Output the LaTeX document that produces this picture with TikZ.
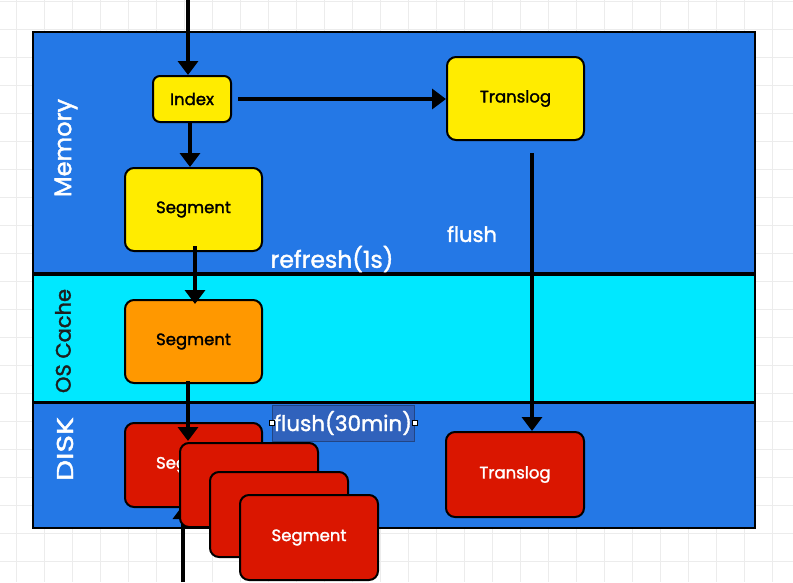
\documentclass[tikz,border=0pt]{standalone}
\usepackage{fontspec}
\setmainfont{Poppins}
\newfontfamily\medfont{Poppins}[FakeBold=1.6]
\usetikzlibrary{arrows.meta}
\definecolor{bandblue}{RGB}{36,120,230}
\definecolor{cachecyan}{RGB}{0,232,255}
\definecolor{boxyellow}{RGB}{255,236,0}
\definecolor{boxorange}{RGB}{255,152,0}
\definecolor{boxred}{RGB}{218,22,0}
\definecolor{gridgray}{RGB}{236,236,236}
\definecolor{selblue}{RGB}{48,98,188}
\definecolor{darktext}{RGB}{30,30,30}
\begin{document}
\begin{tikzpicture}[x=1pt,y=-1pt,
  band/.style={draw=black, line width=2pt},
  box/.style={draw=black, line width=2pt, rounded corners=9pt, minimum width=137pt, minimum height=83pt, inner sep=0pt, font=\medfont\fontsize{16.5}{18}\selectfont},
  flow/.style={line width=4.5pt, -{Triangle[width=20pt,length=14pt]}},
  bandlabel/.style={rotate=90, font=\medfont\fontsize{24}{26}\selectfont},
  flowlabel/.style={text=white, font=\medfont\fontsize{22}{24}\selectfont, inner sep=0pt},
  handle/.style={draw=black, fill=white, line width=0.6pt, minimum size=5pt, inner sep=0pt}
]
\useasboundingbox (0,0) rectangle (793,582);
\fill[white] (0,0) rectangle (793,582);
\foreach \gx in {16,44,...,793} \draw[gridgray, line width=1pt] (\gx,0) -- (\gx,582);
\foreach \gy in {1,29,...,582} \draw[gridgray, line width=1pt] (0,\gy) -- (793,\gy);

% bands
\draw[band, fill=bandblue] (33,32) rectangle (755,273);
\draw[band, fill=cachecyan] (33,275) rectangle (755,402);
\draw[band, fill=bandblue] (33,403) rectangle (755,528);

\node[bandlabel, text=white] (lmem) at (66,148) {Memory};
\node[bandlabel, text=darktext, font=\medfont\fontsize{21}{23}\selectfont] (lcache) at (63,341) {OS Cache};
\node[bandlabel, text=white, font=\medfont\fontsize{23}{25}\selectfont] (ldisk) at (65,449) {\scalebox{1.3}[1]{DISK}};

% memory boxes
\node[box, fill=boxyellow, minimum width=78pt, minimum height=46pt, rounded corners=7pt] (idx) at (192,99) {Index};
\node[box, fill=boxyellow] (memseg) at (193.5,209.5) {Segment};
\node[box, fill=boxyellow] (tlog) at (515.5,98.5) {Translog};

% os cache
\node[box, fill=boxorange] (cacheseg) at (193.5,341.5) {Segment};

% disk
\node[box, fill=boxred, text=white, minimum width=138pt, minimum height=85pt] (dtlog) at (515,474.5) {Translog};
\node[box, fill=boxred, text=white, minimum height=84pt] (red1) at (193.5,465) {Segment};

% labels
\node[flowlabel, font=\medfont\fontsize{23.5}{25}\selectfont] (lrefresh) at (332,259) {refresh(1s)};
\node[flowlabel, font=\medfont\fontsize{21}{23}\selectfont] (lflush) at (472,234) {flush};
\node[flowlabel, fill=selblue, draw=selblue!70!black, line width=0.6pt, minimum width=142pt, minimum height=36pt, font=\medfont\fontsize{21.5}{23}\selectfont] (lflush30) at (343,423) {flush(30min)};
\node[handle] (h1) at (lflush30.west) {};
\node[handle] (h2) at (lflush30.east) {};

% connectors
\coordinate (topin) at (188,0);
\draw[flow] (topin) -- (topin |- idx.north);
\draw[flow] ([xshift=-2pt]idx.south) -- ([xshift=-2pt]idx.south |- memseg.north);
\draw[flow] ([xshift=6pt]idx.east) -- (idx.east -| tlog.west);
\draw[flow] ([xshift=1.5pt,yshift=6pt]memseg.south) -- ([xshift=1.5pt,yshift=-5pt]memseg.south |- cacheseg.north);
\draw[flow] ([xshift=16.5pt,yshift=-12pt]tlog.south) -- ([xshift=16.5pt]tlog.south |- dtlog.north);
\draw[flow] ([xshift=-5.5pt,yshift=3pt]cacheseg.south) -- ([xshift=-5.5pt,yshift=-19pt]cacheseg.south |- red1.north);
\coordinate (botin) at (183,582);
\draw[flow] (botin) -- ([yshift=3pt]botin |- red1.south);

% stacked disk segments
\node[box, fill=boxred, minimum width=138pt, minimum height=84pt] (red2) at (249,485) {};
\node[box, fill=boxred, minimum width=138pt, minimum height=85pt] (red3) at (279,514.5) {};
\node[box, fill=boxred, text=white, minimum width=138pt, minimum height=85pt] (red4) at (309,537.5) {Segment};
\end{tikzpicture}
\end{document}
